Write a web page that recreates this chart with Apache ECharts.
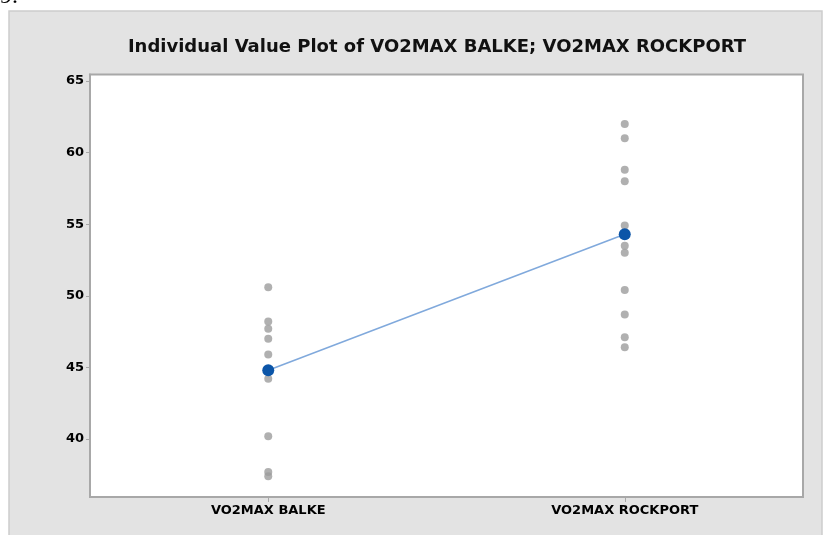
<!DOCTYPE html>
<html>
<head>
<meta charset="utf-8">
<script src="https://cdn.jsdelivr.net/npm/echarts@6/dist/echarts.min.js"></script>
<style>
html,body{margin:0;padding:0;background:#fff;}
#chart{width:827px;height:535px;}
</style>
</head>
<body>
<div id="chart"></div>
<script>
const categories = ['VO2MAX BALKE', 'VO2MAX ROCKPORT'];
const balkeValues = [50.6, 48.2, 47.7, 47.0, 45.9, 44.2, 40.2, 37.7, 37.4];
const rockportValues = [62.0, 61.0, 58.8, 58.0, 54.9, 53.5, 53.0, 50.4, 48.7, 47.1, 46.4];
const meanValues = [44.8, 54.3];
const yTicks = [40, 45, 50, 55, 60, 65];
const titleText = 'Individual Value Plot of VO2MAX BALKE; VO2MAX ROCKPORT';

const pointData = [];
balkeValues.forEach(v => pointData.push([0, v]));
rockportValues.forEach(v => pointData.push([1, v]));

const chart = echarts.init(document.getElementById('chart'), null, {renderer: 'canvas'});
chart.setOption({
  animation: false,
  backgroundColor: '#ffffff',
  graphic: [
    {type: 'rect', z: -10, silent: true,
     shape: {x: 9, y: 11, width: 813, height: 530},
     style: {fill: '#e3e3e3', stroke: '#cdcdcd', lineWidth: 1.5}},
    {type: 'text', z: -5, left: 0, top: -15,
     style: {text: '9.', font: '24px "Liberation Serif"', fill: '#000'}}
  ],
  title: {
    text: titleText,
    left: 432, top: 33, textAlign: 'center',
    textStyle: {fontFamily: 'DejaVu Sans', fontWeight: 'bold', fontSize: 18, color: '#111'}
  },
  grid: {
    left: 90, right: 24, top: 74.5, bottom: 38,
    show: true, backgroundColor: '#ffffff', borderColor: '#a8a8a8', borderWidth: 2
  },
  xAxis: {
    type: 'category',
    data: categories,
    boundaryGap: true,
    axisLine: {show: true, lineStyle: {color: '#a8a8a8', width: 2}},
    axisTick: {show: true, alignWithLabel: true, length: 5, lineStyle: {color: '#a8a8a8'}},
    axisLabel: {margin: 7, fontFamily: 'DejaVu Sans', fontWeight: 'bold', fontSize: 13, color: '#000'},
    splitLine: {show: false}
  },
  yAxis: {
    type: 'value',
    min: 35.95, max: 65.45,
    axisLine: {show: true, lineStyle: {color: '#a8a8a8', width: 2}},
    axisTick: {show: true, length: 4, customValues: yTicks, lineStyle: {color: '#a8a8a8'}},
    axisLabel: {margin: 6, customValues: yTicks, fontFamily: 'DejaVu Sans', fontWeight: 'bold', fontSize: 13, color: '#000'},
    splitLine: {show: false}
  },
  series: [
    {
      type: 'scatter',
      data: pointData,
      symbol: 'circle',
      symbolSize: 8,
      itemStyle: {color: '#9c9c9c'},
      z: 2
    },
    {
      type: 'line',
      data: meanValues,
      symbol: 'circle',
      symbolSize: 12,
      itemStyle: {color: '#0b55a8'},
      lineStyle: {color: '#80a9dc', width: 1.5},
      z: 3
    }
  ]
});
</script>
</body>
</html>
